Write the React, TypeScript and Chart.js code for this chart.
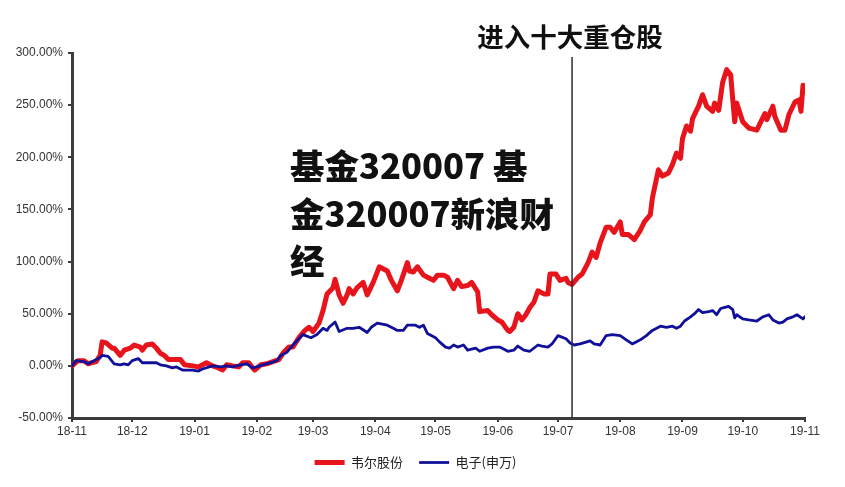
import React, { useEffect, useRef } from 'react';
import { Chart, registerables } from 'chart.js';

Chart.register(...registerables);

// ---------- data ----------
const monthLabels = ['18-11', '18-12', '19-01', '19-02', '19-03', '19-04', '19-05', '19-06', '19-07', '19-08', '19-09', '19-10', '19-11'];
const monthStarts = ['2018-11-01', '2018-12-01', '2019-01-01', '2019-02-01', '2019-03-01', '2019-04-01', '2019-05-01', '2019-06-01', '2019-07-01', '2019-08-01', '2019-09-01', '2019-10-01', '2019-11-01'];
const yTicks = [-50, 0, 50, 100, 150, 200, 250, 300];
const seriesNames = ['韦尔股份', '电子(申万)'];

const redDates = [
  '2018-11-01', '2018-11-04', '2018-11-07', '2018-11-09', '2018-11-13', '2018-11-15', '2018-11-16', '2018-11-18', '2018-11-21', '2018-11-22',
  '2018-11-25', '2018-11-27', '2018-11-30', '2018-12-02', '2018-12-05', '2018-12-06', '2018-12-08', '2018-12-11', '2018-12-13', '2018-12-15',
  '2018-12-17', '2018-12-19', '2018-12-21', '2018-12-25', '2018-12-27', '2018-12-31', '2019-01-03', '2019-01-05', '2019-01-07', '2019-01-10',
  '2019-01-13', '2019-01-15', '2019-01-17', '2019-01-20', '2019-01-23', '2019-01-25', '2019-01-28', '2019-01-30', '2019-01-31', '2019-02-03',
  '2019-02-06', '2019-02-09', '2019-02-12', '2019-02-14', '2019-02-17', '2019-02-19', '2019-02-22', '2019-02-25', '2019-02-27', '2019-03-01',
  '2019-03-04', '2019-03-06', '2019-03-08', '2019-03-11', '2019-03-12', '2019-03-14', '2019-03-16', '2019-03-18', '2019-03-19', '2019-03-21',
  '2019-03-23', '2019-03-26', '2019-03-28', '2019-03-31', '2019-04-03', '2019-04-07', '2019-04-09', '2019-04-12', '2019-04-14', '2019-04-17',
  '2019-04-18', '2019-04-20', '2019-04-22', '2019-04-25', '2019-04-27', '2019-04-30', '2019-05-02', '2019-05-05', '2019-05-07', '2019-05-10',
  '2019-05-12', '2019-05-14', '2019-05-17', '2019-05-19', '2019-05-22', '2019-05-23', '2019-05-27', '2019-05-29', '2019-06-01', '2019-06-03',
  '2019-06-06', '2019-06-07', '2019-06-09', '2019-06-11', '2019-06-13', '2019-06-15', '2019-06-17', '2019-06-19', '2019-06-21', '2019-06-24',
  '2019-06-26', '2019-06-27', '2019-06-30', '2019-07-02', '2019-07-05', '2019-07-06', '2019-07-08', '2019-07-11', '2019-07-13', '2019-07-16',
  '2019-07-18', '2019-07-20', '2019-07-22', '2019-07-25', '2019-07-27', '2019-07-29', '2019-08-01', '2019-08-02', '2019-08-05', '2019-08-08',
  '2019-08-11', '2019-08-13', '2019-08-16', '2019-08-17', '2019-08-20', '2019-08-22', '2019-08-25', '2019-08-27', '2019-08-29', '2019-08-31',
  '2019-09-01', '2019-09-03', '2019-09-05', '2019-09-06', '2019-09-09', '2019-09-11', '2019-09-13', '2019-09-16', '2019-09-17', '2019-09-19',
  '2019-09-21', '2019-09-23', '2019-09-25', '2019-09-26', '2019-09-27', '2019-09-28', '2019-10-01', '2019-10-04', '2019-10-08', '2019-10-10',
  '2019-10-12', '2019-10-13', '2019-10-16', '2019-10-17', '2019-10-20', '2019-10-22', '2019-10-24', '2019-10-27', '2019-10-29', '2019-10-30',
  '2019-10-31', '2019-11-01',
];
const redValues = [
  0, 5, 5, 2, 4, 10, 23, 22, 17, 17,
  10, 15, 17, 20, 18, 15, 20, 21, 17, 12,
  10, 6, 6, 6, 1, 0, -1, 1, 3, 0,
  -2, -4, 1, 0, -1, 3, 3, -2, -4, 1,
  2, 4, 6, 12, 18, 18, 27, 34, 37, 33,
  41, 53, 69, 75, 83, 68, 60, 68, 74, 69,
  75, 80, 68, 80, 95, 91, 82, 72, 82, 99,
  91, 90, 95, 87, 85, 82, 87, 87, 85, 74,
  82, 76, 77, 80, 71, 52, 53, 49, 44, 42,
  34, 33, 37, 50, 44, 49, 56, 61, 72, 69,
  69, 88, 88, 82, 84, 80, 78, 85, 88, 99,
  109, 104, 118, 133, 133, 128, 138, 126, 126, 121,
  130, 138, 145, 161, 188, 182, 185, 193, 204, 199,
  218, 230, 225, 237, 249, 260, 249, 244, 252, 245,
  272, 284, 279, 256, 234, 252, 234, 228, 226, 234,
  242, 236, 249, 239, 226, 226, 241, 253, 255, 244,
  269, 263,
];

const blueDates = [
  '2018-11-01', '2018-11-03', '2018-11-07', '2018-11-09', '2018-11-11', '2018-11-15', '2018-11-16', '2018-11-19', '2018-11-22', '2018-11-25',
  '2018-11-27', '2018-11-29', '2018-12-01', '2018-12-04', '2018-12-06', '2018-12-10', '2018-12-13', '2018-12-15', '2018-12-18', '2018-12-21',
  '2018-12-23', '2018-12-26', '2018-12-31', '2019-01-03', '2019-01-05', '2019-01-10', '2019-01-14', '2019-01-17', '2019-01-20', '2019-01-24',
  '2019-01-27', '2019-01-30', '2019-02-01', '2019-02-04', '2019-02-08', '2019-02-11', '2019-02-13', '2019-02-16', '2019-02-19', '2019-02-24',
  '2019-02-28', '2019-03-03', '2019-03-06', '2019-03-08', '2019-03-09', '2019-03-12', '2019-03-14', '2019-03-18', '2019-03-21', '2019-03-24',
  '2019-03-28', '2019-03-30', '2019-04-02', '2019-04-07', '2019-04-10', '2019-04-12', '2019-04-15', '2019-04-17', '2019-04-21', '2019-04-23',
  '2019-04-25', '2019-04-27', '2019-05-01', '2019-05-03', '2019-05-06', '2019-05-08', '2019-05-10', '2019-05-12', '2019-05-15', '2019-05-17',
  '2019-05-21', '2019-05-23', '2019-05-27', '2019-05-30', '2019-06-02', '2019-06-06', '2019-06-09', '2019-06-11', '2019-06-14', '2019-06-17',
  '2019-06-21', '2019-06-23', '2019-06-26', '2019-06-28', '2019-07-01', '2019-07-05', '2019-07-07', '2019-07-09', '2019-07-12', '2019-07-17',
  '2019-07-19', '2019-07-22', '2019-07-25', '2019-07-28', '2019-08-01', '2019-08-04', '2019-08-07', '2019-08-11', '2019-08-14', '2019-08-17',
  '2019-08-21', '2019-08-24', '2019-08-27', '2019-08-29', '2019-08-31', '2019-09-02', '2019-09-05', '2019-09-07', '2019-09-09', '2019-09-11',
  '2019-09-14', '2019-09-16', '2019-09-18', '2019-09-20', '2019-09-22', '2019-09-24', '2019-09-26', '2019-09-27', '2019-09-28', '2019-10-01',
  '2019-10-04', '2019-10-08', '2019-10-11', '2019-10-14', '2019-10-16', '2019-10-19', '2019-10-21', '2019-10-23', '2019-10-26', '2019-10-28',
  '2019-10-31', '2019-11-01',
];
const blueValues = [
  0, 5, 4, 2, 4, 8, 10, 9, 2, 1,
  2, 1, 5, 7, 3, 3, 3, 1, 0, -2,
  -1, -4, -4, -5, -3, 0, -1, 0, -1, 1,
  2, -2, -1, 1, 3, 5, 10, 13, 20, 30,
  27, 30, 36, 34, 37, 42, 33, 36, 36, 37,
  32, 37, 41, 39, 36, 34, 34, 39, 39, 37,
  39, 31, 27, 23, 18, 17, 20, 18, 20, 15,
  17, 14, 17, 18, 18, 14, 15, 19, 15, 14,
  20, 19, 18, 21, 29, 26, 22, 20, 21, 24,
  21, 20, 29, 30, 29, 25, 21, 25, 29, 34,
  38, 37, 38, 36, 38, 43, 47, 50, 54, 51,
  52, 53, 49, 55, 56, 57, 54, 46, 49, 45,
  44, 43, 47, 49, 44, 41, 42, 45, 47, 49,
  45, 47,
];

const markerDate = '2019-07-08';
const markerLabel = '进入十大重仓股';
const watermarkLines = ['基金320007 基', '金320007新浪财', '经'];

// ---------- helpers ----------
const ORIGIN = Date.UTC(2018, 10, 1);
const dayOf = (s: string) => {
  const [y, m, d] = s.split('-').map(Number);
  return (Date.UTC(y, m - 1, d) - ORIGIN) / 86400000;
};

const RED = '#e8141c';
const BLUE = '#10109a';
const AXIS = '#3c3c3c';
const LATIN = "'Liberation Sans', Arial, sans-serif";
const CJK = "'Noto Sans CJK SC', 'Noto Sans', sans-serif";

const markerPlugin = {
  id: 'markerLine',
  afterLayout(chart: any) {
    // centre the legend a little to the right, as in the reference
    if (chart.legend) chart.legend.left = 26;
  },
  afterDatasetsDraw(chart: any) {
    const { ctx, chartArea, scales } = chart;
    const x = scales.x.getPixelForValue(dayOf(markerDate));
    ctx.save();
    ctx.strokeStyle = '#2b2d3a';
    ctx.lineWidth = 1.5;
    ctx.beginPath();
    ctx.moveTo(x, chartArea.top + 4);
    ctx.lineTo(x, chartArea.bottom);
    ctx.stroke();
    ctx.fillStyle = '#111';
    ctx.font = `bold 26.5px ${CJK}`;
    ctx.textAlign = 'center';
    ctx.textBaseline = 'middle';
    ctx.fillText(markerLabel, x - 2, 37);
    ctx.restore();
  },
};

export default function App() {
  const canvasRef = useRef<HTMLCanvasElement | null>(null);

  useEffect(() => {
    if (!canvasRef.current) return;
    const monthDays = monthStarts.map(dayOf);
    const chart = new Chart(canvasRef.current, {
      type: 'line',
      data: {
        datasets: [
          {
            label: seriesNames[0],
            data: redDates.map((d, i) => ({ x: dayOf(d), y: redValues[i] })),
            borderColor: RED,
            backgroundColor: RED,
            borderWidth: 5,
            borderCapStyle: 'round',
            borderJoinStyle: 'round',
            pointRadius: 0,
            tension: 0,
            order: 1,
          },
          {
            label: seriesNames[1],
            data: blueDates.map((d, i) => ({ x: dayOf(d), y: blueValues[i] })),
            borderColor: BLUE,
            backgroundColor: BLUE,
            borderWidth: 2.8,
            borderCapStyle: 'round',
            borderJoinStyle: 'round',
            pointRadius: 0,
            tension: 0,
            order: 0,
          },
        ],
      },
      options: {
        responsive: false,
        animation: false,
        layout: { padding: { top: 53, right: 40, left: 0, bottom: 8 } },
        plugins: {
          tooltip: { enabled: false },
          title: { display: false },
          legend: {
            position: 'bottom',
            labels: {
              usePointStyle: true,
              pointStyle: 'line',
              pointStyleWidth: 30,
              padding: 16,
              color: '#222',
              font: { family: CJK, size: 13 },
              sort: (a: any, b: any) => a.datasetIndex - b.datasetIndex,
            },
          },
        },
        scales: {
          x: {
            type: 'linear',
            min: monthDays[0],
            max: monthDays[monthDays.length - 1],
            afterBuildTicks: (scale: any) => {
              scale.ticks = monthDays.map((v) => ({ value: v }));
            },
            afterFit: (scale: any) => {
              scale.height = 22;
            },
            ticks: {
              autoSkip: false,
              maxRotation: 0,
              color: '#333',
              font: { family: LATIN, size: 12 },
              padding: 2,
              callback: (v: any) => {
                const i = monthDays.indexOf(Number(v));
                return i >= 0 ? monthLabels[i] : '';
              },
            },
            grid: { drawOnChartArea: false, drawTicks: true, tickLength: 4, color: AXIS, lineWidth: 2 },
            border: { display: true, color: AXIS, width: 3 },
          },
          y: {
            min: yTicks[0],
            max: yTicks[yTicks.length - 1],
            afterBuildTicks: (scale: any) => {
              scale.ticks = yTicks.map((v) => ({ value: v }));
            },
            afterFit: (scale: any) => {
              scale.width = 72;
            },
            ticks: {
              color: '#333',
              font: { family: LATIN, size: 12 },
              padding: 5,
              callback: (v: any) => `${Number(v).toFixed(2)}%`,
            },
            grid: { drawOnChartArea: false, drawTicks: true, tickLength: 4, color: AXIS, lineWidth: 2 },
            border: { display: true, color: AXIS, width: 3 },
          },
        },
      },
      plugins: [markerPlugin],
    } as any);
    return () => chart.destroy();
  }, []);

  return (
    <div style={{ position: 'absolute', left: 0, top: 0, width: 845, height: 487, background: '#fff', overflow: 'hidden' }}>
      <canvas ref={canvasRef} width={845} height={487} style={{ width: 845, height: 487, display: 'block' }} />
      <div
        style={{
          position: 'absolute',
          left: 290,
          top: 141,
          fontFamily: CJK,
          fontWeight: 900,
          fontSize: 34.5,
          lineHeight: '47.5px',
          color: '#111',
          whiteSpace: 'nowrap',
          pointerEvents: 'none',
        }}
      >
        {watermarkLines.map((t, i) => (
          <div key={i}>{t}</div>
        ))}
      </div>
    </div>
  );
}
